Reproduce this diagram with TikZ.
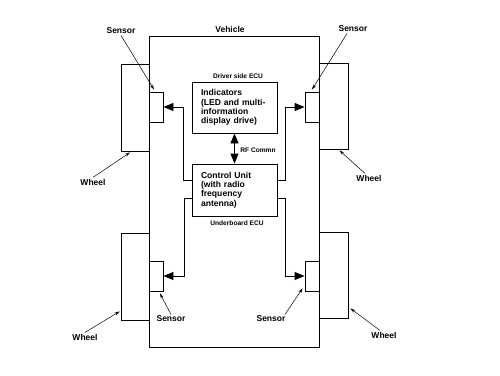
\documentclass[tikz,border=0pt]{standalone}
\usepackage{fontspec}
\setmainfont{Liberation Sans}
\usetikzlibrary{arrows.meta, positioning}

\begin{document}
\begin{tikzpicture}[x=1pt, y=-1pt, line width=0.9pt, >={Triangle[length=10pt,width=8pt]}]
    \tikzset{
        part/.style={rectangle, draw, inner sep=0pt},
        ecu/.style={rectangle, draw, minimum width=85pt, text width=67pt, inner xsep=9pt, align=left, font=\fontsize{8.6}{9.3}\selectfont\bfseries},
        tag/.style={font=\fontsize{8.5}{10}\selectfont\bfseries, inner sep=1pt},
        small/.style={font=\fontsize{6.6}{8}\selectfont\bfseries, inner sep=1pt},
        line/.style={draw, ->},
        pointer/.style={draw, line width=0.5pt, -{Stealth[length=5pt,width=3pt]}}
    }
    \useasboundingbox (0,0) rectangle (500,375);

    % body, wheels and sensors
    \node[part, minimum width=170pt, minimum height=311pt] (vehicle) at (234,191.5) {};
    \node[part, minimum width=28pt, minimum height=87pt] (wheelTL) at (135,107.5) {};
    \node[part, minimum width=29pt, minimum height=86pt] (wheelTR) at (333.5,106) {};
    \node[part, minimum width=28pt, minimum height=87pt] (wheelBL) at (135,276.5) {};
    \node[part, minimum width=29pt, minimum height=86pt] (wheelBR) at (333.5,275) {};
    \node[part, minimum width=14pt, minimum height=30pt] (sensTL) at (156,107) {};
    \node[part, minimum width=14pt, minimum height=30pt] (sensTR) at (312,107) {};
    \node[part, minimum width=14pt, minimum height=30pt] (sensBL) at (156,276) {};
    \node[part, minimum width=14pt, minimum height=30pt] (sensBR) at (312,276) {};

    % ECUs
    \node[ecu, minimum height=51pt] (ind) at (234.5,107.5) {Indicators\\(LED and multi-\\information\\display drive)};
    \node[ecu, minimum height=52pt] (ctrl) at (234.5,190) {Control Unit\\(with radio\\frequency\\antenna)};
    \node[small, above=1.5pt of ind, xshift=3.5pt] (drvECU) {Driver side ECU};
    \node[small, below=3pt of ctrl, xshift=2.5pt] (ubECU) {Underboard ECU};
    \node[small, anchor=west] (rf) at (239,150) {RF Commn};

    % labels
    \node[tag] (labVeh) at (230,29) {Vehicle};
    \node[tag] (labSTL) at (121,31) {Sensor};
    \node[tag] (labSTR) at (353,29) {Sensor};
    \node[tag] (labSBL) at (171,319) {Sensor};
    \node[tag] (labSBR) at (271,319) {Sensor};
    \node[tag] (labWTL) at (93,182) {Wheel};
    \node[tag] (labWTR) at (369,178) {Wheel};
    \node[tag] (labWBL) at (85,337) {Wheel};
    \node[tag] (labWBR) at (384,335) {Wheel};

    % signal lines
    \path[line] ([yshift=10pt]ctrl.west) -- ++(-8,0) |- (sensTL.east);
    \path[line] ([yshift=10pt]ctrl.east) -- ++(8,0) |- (sensTR.west);
    \path[line] ([yshift=-8pt]ctrl.west) -- ++(-7,0) |- (sensBL.east);
    \path[line] ([yshift=-8pt]ctrl.east) -- ++(8,0) |- (sensBR.west);
    \path[line, <->] (ind.south) -- (ctrl.north);

    % label pointers
    \path[pointer] (labSTL.south) -- ([xshift=-2pt, yshift=2pt]sensTL.north);
    \path[pointer] ([xshift=-6pt]labSTR.south) -- ([yshift=2pt]sensTR.north);
    \path[pointer] (labSBL.north) -- ([xshift=4pt, yshift=-2pt]sensBL.south);
    \path[pointer] ([xshift=-2pt]labSBR.north east) -- ([xshift=-2pt, yshift=3pt]sensBR.south west);
    \path[pointer] (labWTL.north) -- ([xshift=-5pt, yshift=-1pt]wheelTL.south);
    \path[pointer] ([xshift=-4pt]labWTR.north) -- ([xshift=6pt, yshift=-1pt]wheelTR.south);
    \path[pointer] (labWBL.north) -- ([xshift=-1pt, yshift=9pt]wheelBL.south west);
    \path[pointer] ([xshift=-4pt]labWBR.north) -- ([xshift=2pt, yshift=10pt]wheelBR.south east);
\end{tikzpicture}
\end{document}
